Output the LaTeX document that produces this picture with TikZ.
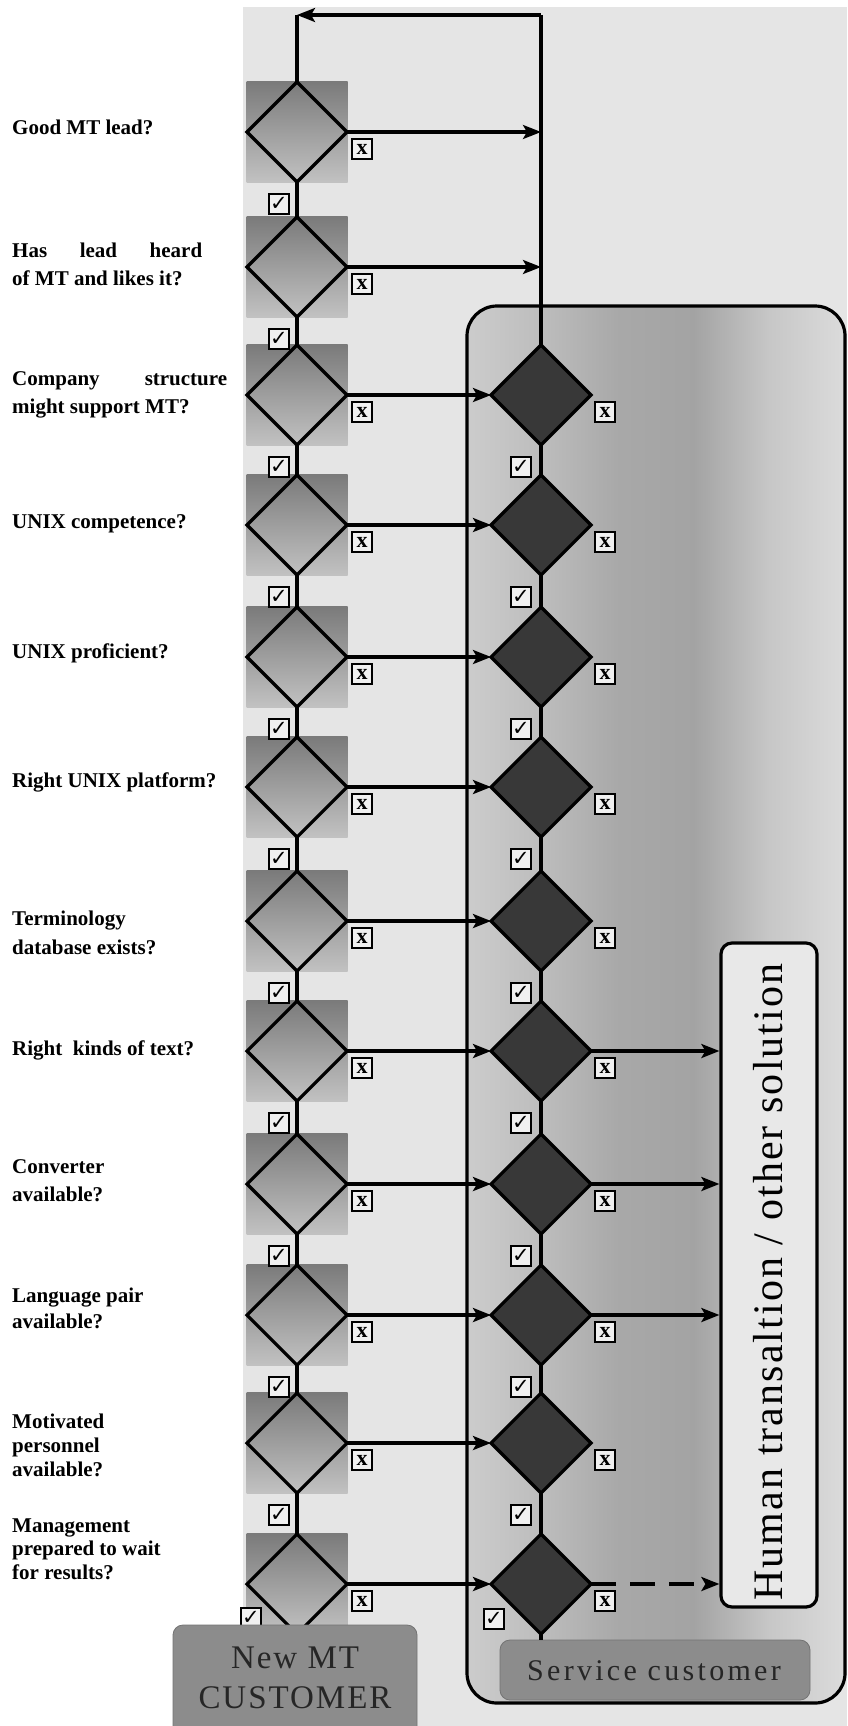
\documentclass[tikz,border=0pt]{standalone}
\usepackage{fontspec}
\setmainfont{Liberation Serif}
\newfontfamily\dejavu{DejaVu Sans}
\usetikzlibrary{shapes.geometric,arrows.meta}
\colorlet{bandA}{black!20}
\colorlet{bandB}{black!26}
\colorlet{bandC}{black!34}
\colorlet{bandD}{black!36}
\colorlet{bandE}{black!22}
\colorlet{bandF}{black!14}
\pgfdeclarehorizontalshading{bandshade}{100bp}{color(0bp)=(bandA); color(25bp)=(bandA); color(35bp)=(bandB); color(45bp)=(bandC); color(55bp)=(bandD); color(65bp)=(bandE); color(75bp)=(bandF); color(100bp)=(bandF)}
\tikzset{
  ln/.style={line width=3.2pt, draw=black},
  arr/.style={ln, -{Stealth[length=18pt,width=14pt,inset=4pt]}},
  dasharr/.style={arr, dash pattern=on 25pt off 14pt},
  qdia/.style={diamond, draw, line width=3.2pt, minimum width=100pt, minimum height=100pt, inner sep=0pt, outer sep=0pt},
  ddia/.style={qdia, fill=black!78},
  shadesq/.style={rectangle, minimum width=101pt, minimum height=101pt, inner sep=0pt, top color=black!52, middle color=black!38, bottom color=black!24, draw=none},
  cbox/.style={rectangle, draw, line width=2.4pt, fill=black!6, minimum size=20pt, inner sep=0pt, font=\dejavu\fontsize{21}{21}\selectfont},
  xbox/.style={cbox, font=\bfseries\fontsize{22}{22}\selectfont},
  lab/.style={anchor=base west, inner sep=0pt, font=\bfseries\fontsize{21}{21}\selectfont},
  graybox/.style={rectangle, rounded corners=10pt, fill=black!45, draw=black!55, line width=0.8pt, inner sep=0pt},
  boxtext/.style={anchor=base, inner sep=0pt, text=black!85},
}
\begin{document}
\begin{tikzpicture}[x=1pt,y=-1pt]
\useasboundingbox (0,0) rectangle (847,1726);
\fill[white] (0,0) rectangle (847,1726);
\fill[black!10] (243,7) rectangle (847,1726);

% service frame
\node[draw, line width=3.2pt, rounded corners=30pt, shade, shading=bandshade, minimum width=378pt, minimum height=1397pt, inner sep=0pt] (frame) at (656,1004.5) {};

% human translation box
\node[draw, line width=3.2pt, rounded corners=11pt, fill=black!9, minimum width=96pt, minimum height=664pt, inner sep=0pt] (hum) at (769,1275) {};
\node[rotate=90, anchor=base, inner sep=0pt, font=\fontsize{42}{42}\selectfont\addfontfeature{LetterSpace=5}] (humtext) at (782,1282) {Human transaltion / other solution};

% left column
\foreach \i/\y in {1/132,2/267,3/395,4/525,5/657,6/787,7/921,8/1051,9/1184,10/1315,11/1443,12/1584}{
  \node[shadesq] (S\i) at (297,\y) {};
  \node[qdia] (L\i) at (297,\y) {};
  \node[xbox] (LX\i) at (362,{\y+17}) {x};
}
% right column
\foreach \i/\y in {3/395,4/525,5/657,6/787,7/921,8/1051,9/1184,10/1315,11/1443,12/1584}{
  \node[ddia] (R\i) at (541,\y) {};
  \node[xbox] (RX\i) at (605,{\y+17}) {x};
}
% check boxes between rows
\foreach \i/\y in {1/132,2/267,3/395,4/525,5/657,6/787,7/921,8/1051,9/1184,10/1315,11/1443}{
  \node[cbox] (LC\i) at (279,{\y+72}) {✓};
}
\foreach \i/\y in {3/395,4/525,5/657,6/787,7/921,8/1051,9/1184,10/1315,11/1443}{
  \node[cbox] (RC\i) at (521,{\y+72}) {✓};
}
\node[cbox] (LC12) at (251,1618) {✓};
\node[cbox] (RC12) at (494,1619) {✓};

% vertical chains
\foreach \i/\j in {1/2,2/3,3/4,4/5,5/6,6/7,7/8,8/9,9/10,10/11,11/12}{
  \draw[ln] (L\i.south) -- (L\j.north);
}
\foreach \i/\j in {3/4,4/5,5/6,6/7,7/8,8/9,9/10,10/11,11/12}{
  \draw[ln] (R\i.south) -- (R\j.north);
}

% loop back line
\coordinate (j1) at (541,132);
\coordinate (j2) at (541,267);
\coordinate (tr) at (541,15);
\coordinate (tl) at (297,15);
\draw[ln] (R3.north) -- (tr);
\draw[arr] (tr) -- (tl);
\draw[ln] (tl) -- (L1.north);
\draw[arr] (L1.east) -- (j1);
\draw[arr] (L2.east) -- (j2);
\foreach \i in {3,...,12}{
  \draw[arr] (L\i.east) -- (R\i.west);
}
\foreach \i in {8,9,10}{
  \draw[arr] (R\i.east) -- (R\i.east -| hum.west);
}
\draw[dasharr] (R12.east) -- (R12.east -| hum.west);

% bottom boxes
\node[graybox, minimum width=244pt, minimum height=120pt] (newmt) at (295,1685) {};
\node[boxtext, font=\fontsize{33}{33}\selectfont\addfontfeature{LetterSpace=6}] (newmt1) at (295,1668) {New MT};
\node[boxtext, font=\fontsize{33}{33}\selectfont\addfontfeature{LetterSpace=6}] (newmt2) at (295,1708) {CUSTOMER};
\node[graybox, minimum width=310pt, minimum height=60pt] (svc) at (655,1670) {};
\draw[ln] (R12.south) -- (R12.south |- svc.north);
\node[boxtext, font=\fontsize{30}{30}\selectfont\addfontfeature{LetterSpace=11}] (svctext) at (654,1680) {Service customer};

% labels
\node[lab] (q1) at (12,135) {Good MT lead?};
\node[lab] (q2a) at (12,257) {\makebox[190pt][s]{Has lead heard}};
\node[lab] (q2b) at (12,285) {of MT and likes it?};
\node[lab] (q3a) at (12,385) {\makebox[215pt][s]{Company structure}};
\node[lab] (q3b) at (12,413) {might support MT?};
\node[lab] (q4) at (12,528) {UNIX competence?};
\node[lab] (q5) at (12,658) {UNIX proficient?};
\node[lab] (q6) at (12,787) {Right UNIX platform?};
\node[lab] (q7a) at (12,925) {Terminology};
\node[lab] (q7b) at (12,954) {database exists?};
\node[lab] (q8) at (12,1055) {Right\ \ kinds of text?};
\node[lab] (q9a) at (12,1173) {Converter};
\node[lab] (q9b) at (12,1201) {available?};
\node[lab] (q10a) at (12,1302) {Language pair};
\node[lab] (q10b) at (12,1328) {available?};
\node[lab] (q11a) at (12,1428) {Motivated};
\node[lab] (q11b) at (12,1452) {personnel};
\node[lab] (q11c) at (12,1476) {available?};
\node[lab] (q12a) at (12,1532) {Management};
\node[lab] (q12b) at (12,1555) {prepared to wait};
\node[lab] (q12c) at (12,1579) {for results?};
\end{tikzpicture}
\end{document}
